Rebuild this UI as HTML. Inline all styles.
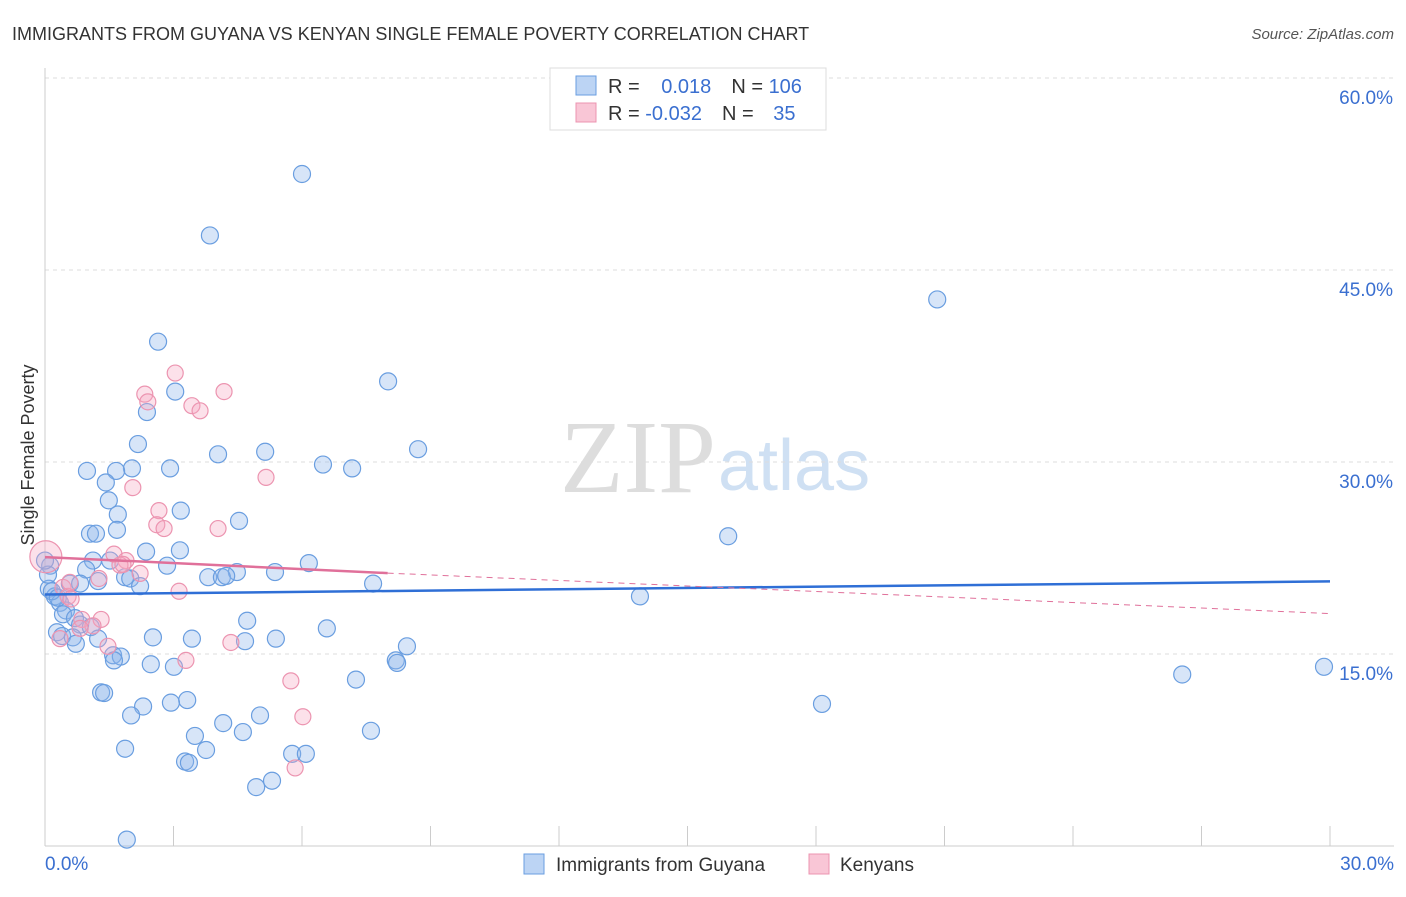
<!DOCTYPE html>
<html><head><meta charset="utf-8"><style>
body{margin:0;background:#fff;font-family:"Liberation Sans",sans-serif;}
</style></head><body>
<svg width="1406" height="892" xmlns="http://www.w3.org/2000/svg">
<text x="12" y="40" font-size="18" fill="#333">IMMIGRANTS FROM GUYANA VS KENYAN SINGLE FEMALE POVERTY CORRELATION CHART</text>
<text x="1394" y="39" font-size="15" fill="#555" font-style="italic" text-anchor="end">Source: ZipAtlas.com</text>
<text x="716" y="492" font-size="104" fill="#ddd" text-anchor="end" font-family="Liberation Serif">ZIP</text>
<text x="718" y="490" font-size="72" fill="#cfe0f3">atlas</text>
<g id="grid"></g>
<g id="axes"></g>
<text transform="translate(34,455) rotate(-90)" font-size="18" fill="#333" text-anchor="middle">Single Female Poverty</text>
<g id="pts"></g>
<g id="trend"></g>
<g>
<rect x="550" y="68" width="276" height="62" fill="#fff" stroke="#ddd"/>
<rect x="576" y="76" width="20" height="19" fill="#bcd4f4" stroke="#6a9ee0"/>
<rect x="576" y="103" width="20" height="19" fill="#f9c6d6" stroke="#ec94b0"/>
<text x="608" y="93" font-size="20" fill="#333">R = <tspan fill="#3a6fd0" dx="16">0.018</tspan><tspan dx="20" fill="#333">N = </tspan><tspan fill="#3a6fd0">106</tspan></text>
<text x="608" y="120" font-size="20" fill="#333">R = <tspan fill="#3a6fd0">-0.032</tspan><tspan dx="20" fill="#333">N = </tspan><tspan fill="#3a6fd0" dx="14">35</tspan></text>
</g>
<g>
<rect x="524" y="854" width="20" height="20" fill="#bcd4f4" stroke="#6a9ee0"/>
<text x="556" y="871" font-size="19" fill="#333">Immigrants from Guyana</text>
<rect x="809" y="854" width="20" height="20" fill="#f9c6d6" stroke="#ec94b0"/>
<text x="840" y="871" font-size="19" fill="#333">Kenyans</text>
</g>
</svg>
<script>
const yTicks=[15,30,45,60];
const xTickLabels=["0.0%","30.0%"];
const blueX=[6.0,3.85,20.83,2.64,8.01,3.04,2.38,2.17,5.14,8.71,4.04,6.49,7.17,2.92,0.98,2.03,1.66,1.42,1.49,3.17,1.70,4.53,1.68,1.05,1.19,15.95,2.36,3.15,1.12,1.52,6.16,2.85,0.96,4.48,5.37,3.81,4.13,4.23,1.87,1.99,7.66,1.24,2.22,0.58,0.82,0.09,0.23,13.89,0.35,0.49,0.42,0.70,0.82,1.07,4.72,0.28,0.40,1.24,3.43,5.39,2.52,4.67,0.65,6.58,0.72,8.45,1.59,1.77,1.61,8.19,8.22,2.47,3.01,7.26,29.86,26.55,1.31,1.38,3.32,2.94,18.14,2.29,2.01,5.02,4.16,3.50,4.62,7.61,3.76,1.87,5.77,6.09,3.27,3.36,5.30,4.93,1.91,0.12,0.07,0.16,0.30,0.0];
const blueY=[52.5,47.7,42.7,39.4,36.3,35.5,33.9,31.4,30.8,31.0,30.6,29.8,29.5,29.5,29.3,29.5,29.3,28.4,27.0,26.2,25.9,25.4,24.7,24.4,24.4,24.2,23.0,23.1,22.3,22.3,22.1,21.9,21.6,21.4,21.4,21.0,21.0,21.1,21.0,20.9,20.5,20.7,20.3,20.5,20.5,20.1,19.5,19.5,19.0,18.4,18.1,17.8,17.3,17.1,17.6,16.7,16.4,16.2,16.2,16.2,16.3,16.0,16.3,17.0,15.8,15.6,14.9,14.8,14.5,14.5,14.3,14.2,14.0,13.0,14.0,13.4,12.0,11.95,11.4,11.2,11.1,10.9,10.2,10.2,9.6,8.6,8.9,9.0,7.5,7.6,7.2,7.2,6.6,6.5,5.1,4.6,0.5,21.9,21.2,19.9,19.4,22.3];
const pinkX=[3.04,4.18,2.33,2.40,3.43,3.62,5.16,2.05,2.66,2.61,2.78,4.04,1.61,1.89,1.75,2.22,1.26,0.42,0.54,3.13,0.61,0.86,1.31,1.12,0.82,1.47,4.34,3.29,5.74,6.02,5.84,0.35,0.02,1.82,0.58];
const pinkY=[36.95,35.5,35.3,34.7,34.4,34.0,28.8,28.0,26.2,25.1,24.8,24.8,22.8,22.3,21.95,21.3,20.9,20.2,19.5,19.9,19.3,17.7,17.7,17.2,17.0,15.6,15.9,14.5,12.9,10.1,6.1,16.2,22.6,22.0,20.6];
const blueTrend=[19.65,20.67];
const pinkSolid=[22.57,21.32];
const pinkDash=18.16;
const NS="http://www.w3.org/2000/svg";
const X=v=>45+v*1285/30, Y=v=>846-v*12.8;
function mk(t,a,p){const e=document.createElementNS(NS,t);for(const k in a)e.setAttribute(k,a[k]);p.appendChild(e);return e;}
const grid=document.getElementById('grid'),axes=document.getElementById('axes'),pts=document.getElementById('pts'),tr=document.getElementById('trend');
yTicks.forEach(t=>{const l=mk('line',{x1:45,x2:1394,y1:Y(t),y2:Y(t),stroke:'#ddd','stroke-dasharray':'4,4'},grid);


const tx=mk('text',{x:1393,y:Y(t)+26,'font-size':19,fill:'#3a6fd0','text-anchor':'end'},grid);tx.textContent=t.toFixed(1)+'%';

});
const ya=mk('line',{x1:45,x2:45,y1:68,y2:846,stroke:'#ccc'},axes);


const xa=mk('line',{x1:45,x2:1394,y1:846,y2:846,stroke:'#ccc'},axes);


for(let i=0;i<=10;i++){const t=mk('line',{x1:X(i*3),x2:X(i*3),y1:826,y2:846,stroke:'#ccc'},axes);

}
[[0,'start',45],[30,'end',1394]].forEach((d,i)=>{const t=mk('text',{x:d[2],y:870,'font-size':19,fill:'#3a6fd0','text-anchor':d[1]},axes);t.textContent=xTickLabels[i];

});
blueX.forEach((x,i)=>{const c=mk('circle',{cx:X(x),cy:Y(blueY[i]),r:8.5,fill:'rgba(140,180,235,0.35)',stroke:'#6a9ee0','stroke-width':1.2},pts);

});
pinkX.forEach((x,i)=>{const c=mk('circle',{cx:X(x),cy:Y(pinkY[i]),r:i==32?16:8,fill:'rgba(245,170,195,0.35)',stroke:'#ec94b0','stroke-width':1.2},pts);

});
const bl=mk('line',{x1:X(0),y1:Y(blueTrend[0]),x2:X(30),y2:Y(blueTrend[1]),stroke:'#2f6fd6','stroke-width':2.5},tr);


const ps=mk('line',{x1:X(0),y1:Y(pinkSolid[0]),x2:X(8),y2:Y(pinkSolid[1]),stroke:'#e0709a','stroke-width':2.5},tr);


const pd=mk('line',{x1:X(8),y1:Y(pinkSolid[1]),x2:X(30),y2:Y(pinkDash),stroke:'#e0709a','stroke-width':1,'stroke-dasharray':'6,5'},tr);


</script>
</body></html>
